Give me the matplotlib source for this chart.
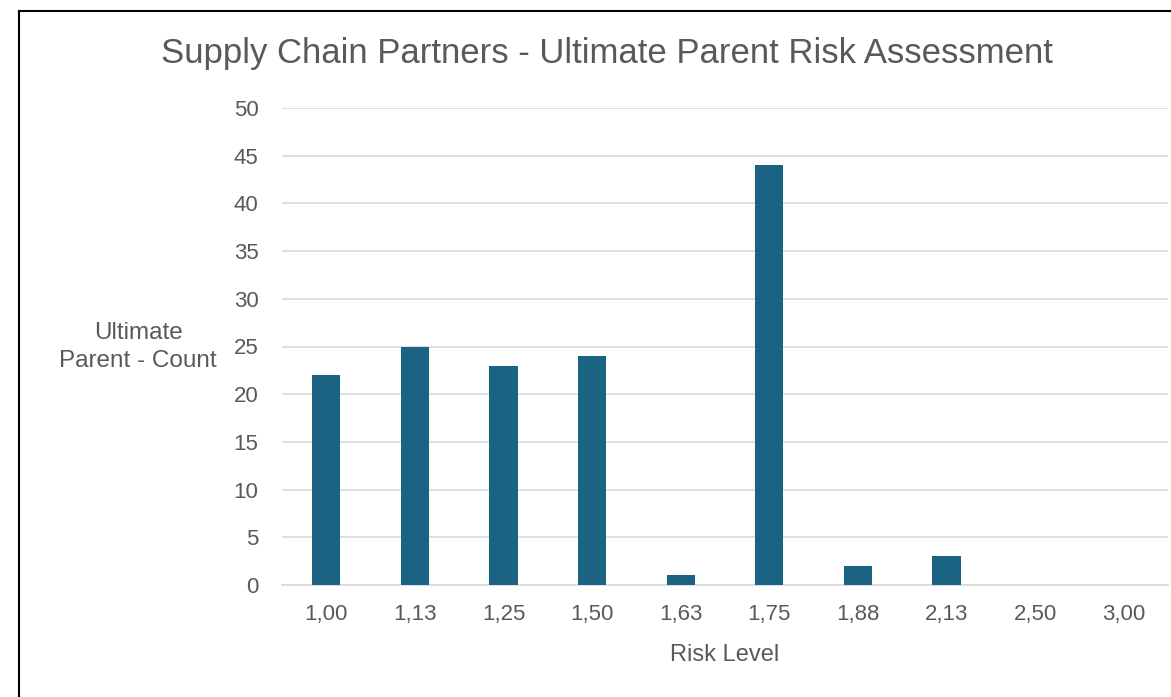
import matplotlib
matplotlib.use("Agg")
import matplotlib.pyplot as plt
from matplotlib.lines import Line2D

# Chart data
risk_levels = ["1,00", "1,13", "1,25", "1,50", "1,63", "1,75", "1,88", "2,13", "2,50", "3,00"]
parent_counts = [22, 25, 23, 24, 1, 44, 2, 3, 0, 0]
y_ticks = [0, 5, 10, 15, 20, 25, 30, 35, 40, 45, 50]

BAR_COLOR = "#1b6383"
TEXT_COLOR = "#595959"
GRID_COLOR = "#d9d9d9"

plt.rcParams["font.family"] = ["Liberation Sans", "DejaVu Sans"]

W, H = 1171, 697
fig = plt.figure(figsize=(W / 100, H / 100), dpi=100)
ax = fig.add_axes([282 / W, 1 - 585 / H, (1168 - 282) / W, (585 - 108) / H])

x = range(len(risk_levels))
ax.bar(x, parent_counts, width=0.32, color=BAR_COLOR, zorder=3)

ax.set_xlim(-0.5, len(risk_levels) - 0.5)
ax.set_ylim(0, 50)
ax.set_yticks(y_ticks)
ax.set_xticks(list(x))
ax.set_xticklabels(risk_levels)

ax.grid(axis="y", color=GRID_COLOR, linewidth=1.2, zorder=0)
for side in ["top", "right", "left"]:
    ax.spines[side].set_visible(False)
ax.spines["bottom"].set_color(GRID_COLOR)
ax.spines["bottom"].set_linewidth(1.2)
ax.tick_params(axis="both", length=0, labelsize=16, labelcolor=TEXT_COLOR)
ax.tick_params(axis="y", pad=17)
ax.tick_params(axis="x", pad=14)

# axis titles and chart title
fig.text(725 / W, 1 - 655 / H, "Risk Level", fontsize=17, color=TEXT_COLOR,
         ha="center", va="center")
fig.text(138 / W, 1 - 347 / H, "Ultimate\nParent - Count", fontsize=17.5,
         color=TEXT_COLOR, ha="center", va="center", linespacing=1.3)
fig.text(607 / W, 1 - 53 / H, "Supply Chain Partners - Ultimate Parent Risk Assessment",
         fontsize=25, color=TEXT_COLOR, ha="center", va="center")

# chart frame (left and top edges visible)
fig.add_artist(Line2D([19 / W, 19 / W], [0, 1 - 11 / H], color="black", linewidth=1.5,
                      transform=fig.transFigure))
fig.add_artist(Line2D([19 / W, 1], [1 - 11 / H, 1 - 11 / H], color="black", linewidth=1.5,
                      transform=fig.transFigure))

fig.savefig("out.png", dpi=100)
